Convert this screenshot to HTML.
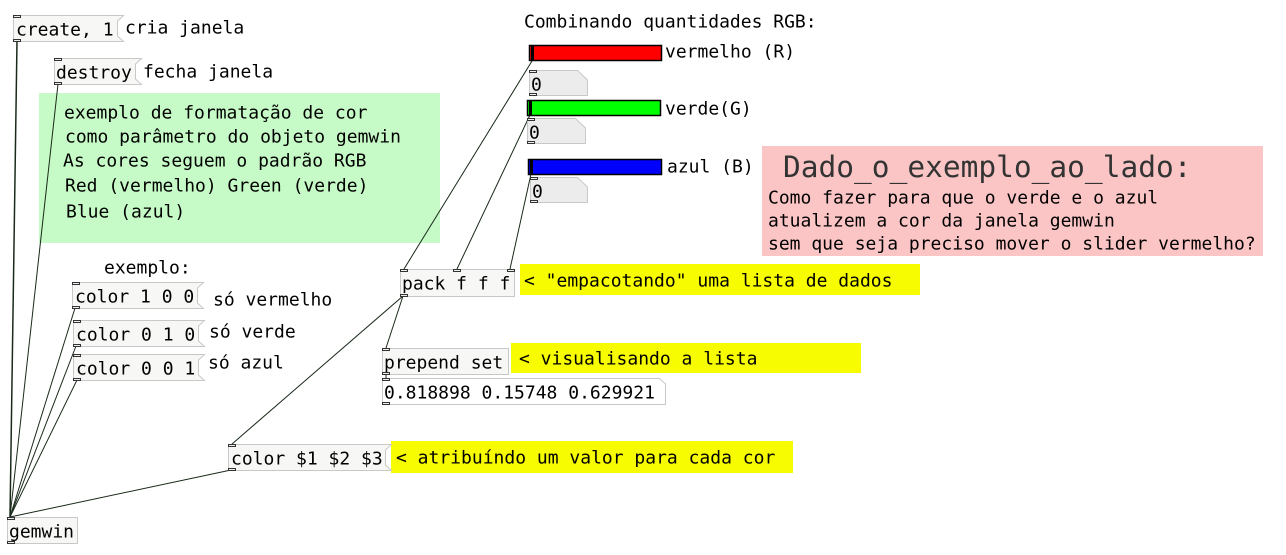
<!DOCTYPE html>
<html><head><meta charset="utf-8"><style>
html,body{margin:0;padding:0;background:#fff;width:1286px;height:555px;overflow:hidden}
svg text{font-family:"DejaVu Sans Mono","Liberation Mono",monospace;font-size:18px;fill:#000;dominant-baseline:central}
</style></head><body>
<svg width="1286" height="555" xmlns="http://www.w3.org/2000/svg">
<rect x="39" y="93" width="401" height="150" fill="#c6fac6"/>
<rect x="762" y="146" width="501" height="110" fill="#fbc5c5"/>
<rect x="520" y="264" width="400" height="31" fill="#f8fc00"/>
<rect x="511" y="343" width="350" height="30" fill="#f8fc00"/>
<rect x="391" y="441" width="402" height="32" fill="#f8fc00"/>

<g stroke="#1a2a1a" stroke-width="1" fill="none">
<line x1="17" y1="41" x2="10" y2="517" stroke-width="1.5"/>
<line x1="58" y1="84" x2="10" y2="517"/>
<line x1="75" y1="308" x2="10" y2="517"/>
<line x1="76" y1="346" x2="10" y2="517"/>
<line x1="77" y1="380" x2="10" y2="517"/>
<line x1="231" y1="470" x2="10" y2="517"/>
<line x1="532" y1="61" x2="404" y2="269"/>
<line x1="530" y1="115" x2="457" y2="269"/>
<line x1="531" y1="174" x2="510" y2="269"/>
<line x1="403" y1="296" x2="232" y2="444"/>
<line x1="403" y1="296" x2="386" y2="348"/>
<line x1="386" y1="374" x2="386" y2="378"/>
</g>

<g fill="#f7f7f5" stroke="#c8c8c8" stroke-width="1">
<polygon points="13.5,15.5 123.5,15.5 117.5,21 117.5,36 123.5,41.5 13.5,41.5"/>
<polygon points="54.5,58.5 141.5,58.5 135.5,64 135.5,79 141.5,84.5 54.5,84.5"/>
<polygon points="72.5,282.5 203.5,282.5 197.5,288 197.5,303 203.5,308.5 72.5,308.5"/>
<polygon points="73.5,320.5 204.5,320.5 198.5,326 198.5,341 204.5,346.5 73.5,346.5"/>
<polygon points="73.5,354.5 204.5,354.5 198.5,360 198.5,375 204.5,380.5 73.5,380.5"/>
<polygon points="228.5,444.5 391.5,444.5 385.5,450 385.5,465 391.5,470.5 228.5,470.5"/>
<rect x="7.5" y="517.5" width="70" height="26"/>
<rect x="400.5" y="269.5" width="114" height="27"/>
<rect x="382.5" y="348.5" width="126" height="26"/>
<polygon points="382.5,378.5 659.5,378.5 665.5,384 665.5,404.5 382.5,404.5" fill="#fff"/>
</g>
<g fill="#ececec" stroke="#c8c8c8">
<polygon points="529.5,70.5 577.5,70.5 587.5,80 587.5,95.5 529.5,95.5"/>
<polygon points="527.5,118.5 575.5,118.5 585.5,128 585.5,143.5 527.5,143.5"/>
<polygon points="530.5,177.5 577.5,177.5 587.5,187 587.5,202.5 530.5,202.5"/>
</g>
<g stroke="#000" stroke-width="1.5">
<rect x="529.5" y="45.5" width="132" height="15" fill="#ff0000"/>
<rect x="527.5" y="100.5" width="133" height="15" fill="#00ff00"/>
<rect x="528.5" y="159.5" width="133" height="15" fill="#0000ff"/>
</g>
<g fill="#000">
<rect x="531" y="46" width="3" height="14"/>
<rect x="529" y="101" width="3" height="14"/>
<rect x="530" y="160" width="3" height="14"/>
</g>

<g fill="#eee" stroke="#333" stroke-width="1">
<rect x="13.5" y="15.5" width="7" height="2"/><rect x="13.5" y="39.5" width="7" height="2"/>
<rect x="54.5" y="58.5" width="7" height="2"/><rect x="54.5" y="82.5" width="7" height="2"/>
<rect x="72.5" y="282.5" width="7" height="2"/><rect x="72.5" y="306.5" width="7" height="2"/>
<rect x="73.5" y="320.5" width="7" height="2"/><rect x="73.5" y="344.5" width="7" height="2"/>
<rect x="73.5" y="354.5" width="7" height="2"/><rect x="73.5" y="378.5" width="7" height="2"/>
<rect x="228.5" y="444.5" width="7" height="2"/><rect x="228.5" y="468.5" width="7" height="2"/>
<rect x="7.5" y="517.5" width="7" height="2"/><rect x="7.5" y="541.5" width="7" height="2"/>
<rect x="400.5" y="269.5" width="7" height="2"/><rect x="453.5" y="269.5" width="7" height="2"/><rect x="507.5" y="269.5" width="7" height="2"/><rect x="400.5" y="294.5" width="7" height="2"/>
<rect x="382.5" y="348.5" width="7" height="2"/><rect x="382.5" y="372.5" width="7" height="2"/>
<rect x="382.5" y="378.5" width="7" height="2"/><rect x="382.5" y="402.5" width="7" height="2"/>
<rect x="529.5" y="70.5" width="7" height="2"/><rect x="529.5" y="93.5" width="7" height="2"/>
<rect x="527.5" y="118.5" width="7" height="2"/><rect x="527.5" y="141.5" width="7" height="2"/>
<rect x="530.5" y="177.5" width="7" height="2"/><rect x="530.5" y="200.5" width="7" height="2"/>
</g>

<text x="16" y="30">create, 1</text>
<text x="125" y="28">cria janela</text>
<text x="56" y="73">destroy</text>
<text x="143" y="72">fecha janela</text>
<text x="64" y="113">exemplo de formatação de cor</text>
<text x="65" y="137">como parâmetro do objeto gemwin</text>
<text x="63" y="161">As cores seguem o padrão RGB</text>
<text x="65" y="186">Red (vermelho) Green (verde)</text>
<text x="66" y="212">Blue (azul)</text>
<text x="104" y="268">exemplo:</text>
<text x="75" y="297">color 1 0 0</text>
<text x="213" y="300">só vermelho</text>
<text x="76" y="335">color 0 1 0</text>
<text x="209" y="332">só verde</text>
<text x="76" y="369">color 0 0 1</text>
<text x="208" y="363">só azul</text>
<text x="9" y="532">gemwin</text>
<text x="231" y="459">color $1 $2 $3</text>
<text x="396" y="458">&lt; atribuíndo um valor para cada cor</text>
<text x="402" y="284">pack f f f</text>
<text x="524" y="281">&lt; "empacotando" uma lista de dados</text>
<text x="384" y="363">prepend set</text>
<text x="519" y="359">&lt; visualisando a lista</text>
<text x="384" y="393">0.818898 0.15748 0.629921</text>
<text x="524" y="22">Combinando quantidades RGB:</text>
<text x="665" y="52">vermelho (R)</text>
<text x="665" y="109">verde(G)</text>
<text x="667" y="167">azul (B)</text>
<text x="531" y="85">0</text>
<text x="529" y="133">0</text>
<text x="532" y="192">0</text>
<text x="783" y="167" style="font-size:29.5px;fill:#333">Dado_o_exemplo_ao_lado:</text>
<text x="768" y="198">Como fazer para que o verde e o azul</text>
<text x="768" y="221">atualizem a cor da janela gemwin</text>
<text x="768" y="244">sem que seja preciso mover o slider vermelho?</text>
</svg>
</body></html>
